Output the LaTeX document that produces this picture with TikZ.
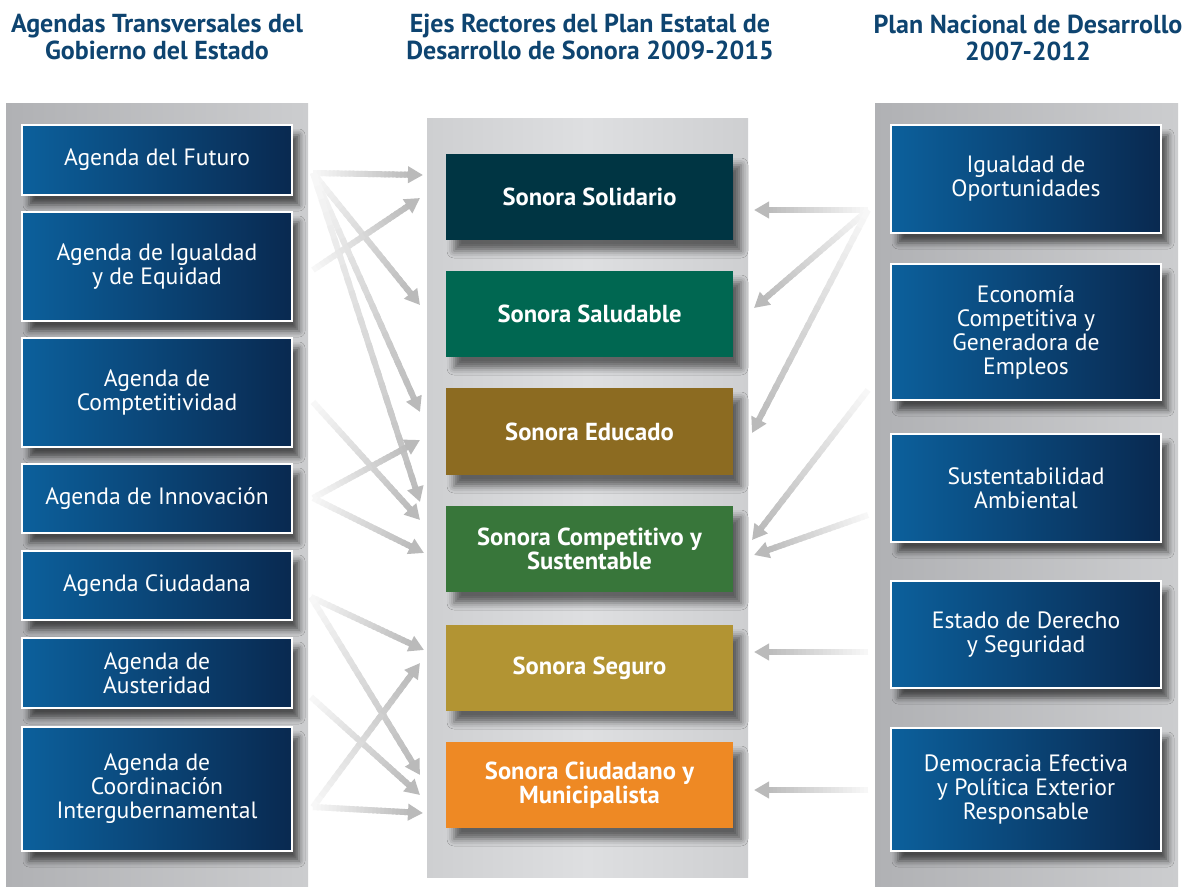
\documentclass[tikz,border=0pt]{standalone}
\usepackage{fontspec}
\setmainfont{PT Sans}
\usetikzlibrary{calc,arrows.meta,shadows.blur}
\definecolor{hdr}{RGB}{14,68,112}
\definecolor{bll}{RGB}{12,96,156}
\definecolor{bld}{RGB}{9,41,80}
\definecolor{cA}{RGB}{0,53,67}
\definecolor{cB}{RGB}{0,103,81}
\definecolor{cC}{RGB}{140,107,33}
\definecolor{cD}{RGB}{56,118,58}
\definecolor{cE}{RGB}{178,148,51}
\definecolor{cF}{RGB}{238,137,36}
\definecolor{pl}{RGB}{176,177,180}
\definecolor{pr}{RGB}{204,205,207}
\definecolor{pc}{RGB}{206,207,209}
\definecolor{pm}{RGB}{222,223,225}
\newcommand\agfont{\fontsize{23.6}{24}\selectfont}
\newcommand\ejfont{\fontsize{24.6}{24.5}\selectfont\bfseries}
\newcommand\hdfont{\fontsize{26}{27}\selectfont\bfseries}
\newcommand{\grarr}[2]{%
  \coordinate (tmpE) at ($(#2)!15pt!(#1)$);
  \foreach \k in {0,...,23}{%
    \pgfmathsetmacro\fa{\k/24}%
    \pgfmathsetmacro\fb{min(1,(\k+1.5)/24)}%
    \pgfmathtruncatemacro\ca{3+\k}%
    \draw[line width=6pt, color=black!\ca] ($(#1)!\fa!(tmpE)$) -- ($(#1)!\fb!(tmpE)$);
  }
  \draw[line width=6pt, color=black!27, -{Triangle[length=15pt,width=16pt]}] ($(#2)!16pt!(#1)$) -- (#2);
}
\tikzset{
  agbox/.style={draw=white, line width=2.5pt, left color=bll, right color=bld,
    minimum width=270pt, text=white, align=center, font=\agfont, inner sep=0pt,
    blur shadow={shadow xshift=7pt, shadow yshift=-10pt, shadow blur radius=6pt, shadow opacity=60}},
  ejbox/.style={draw=none, minimum width=287pt, text=white, align=center, font=\ejfont, inner sep=0pt,
    blur shadow={shadow xshift=8pt, shadow yshift=-11pt, shadow blur radius=7pt, shadow opacity=55}},
  hdtext/.style={text=hdr, align=center, font=\hdfont, inner sep=0pt},
}
\begin{document}
\begin{tikzpicture}[x=1pt,y=-1pt]
\useasboundingbox (0,0) rectangle (1190,886);
\fill[white] (0,0) rectangle (1190,886);
% panels
\shade[left color=pl, right color=pr] (6,103) rectangle (308,886);
\shade[left color=pc, right color=pc, middle color=pm] (427,118) rectangle (748,877);
\shade[left color=pl, right color=pr] (875,103) rectangle (1178,886);
% headers
\node[hdtext] (H1) at (157,37) {Agendas Transversales del\\Gobierno del Estado};
\node[hdtext] (H2) at (590,37) {Ejes Rectores del Plan Estatal de\\Desarrollo de Sonora 2009-2015};
\node[hdtext] (H3) at (1028,38) {Plan Nacional de Desarrollo\\2007-2012};
% left boxes
\node[agbox, minimum height=70pt] (L1) at (157,160) {Agenda del Futuro};
\node[agbox, minimum height=109pt] (L2) at (157,266.5) {Agenda de Igualdad\\y de Equidad};
\node[agbox, minimum height=109pt] (L3) at (157,392.5) {Agenda de\\Comptetitividad};
\node[agbox, minimum height=69pt] (L4) at (157,498.5) {Agenda de Innovación};
\node[agbox, minimum height=69pt] (L5) at (157,585.5) {Agenda Ciudadana};
\node[agbox, minimum height=70pt] (L6) at (157,673) {Agenda de\\Austeridad};
\node[agbox, minimum height=124pt] (L7) at (157,789) {Agenda de\\Coordinación\\Intergubernamental};
% center boxes
\node[ejbox, fill=cA, minimum height=86pt] (C1) at (589.5,197) {Sonora Solidario};
\node[ejbox, fill=cB, minimum height=86pt] (C2) at (589.5,314) {Sonora Saludable};
\node[ejbox, fill=cC, minimum height=87pt] (C3) at (589.5,431.5) {Sonora Educado};
\node[ejbox, fill=cD, minimum height=86pt] (C4) at (589.5,549) {Sonora Competitivo y\\Sustentable};
\node[ejbox, fill=cE, minimum height=86pt] (C5) at (589.5,668) {Sonora Seguro};
\node[ejbox, fill=cF, minimum height=86pt] (C6) at (589.5,785) {Sonora Ciudadano y\\Municipalista};
% right boxes
\node[agbox, minimum height=108pt] (R1) at (1026,179) {Igualdad de\\Oportunidades};
\node[agbox, minimum height=136pt] (R2) at (1026,332) {Economía\\Competitiva y\\Generadora de\\Empleos};
\node[agbox, minimum height=108pt] (R3) at (1026,488) {Sustentabilidad\\Ambiental};
\node[agbox, minimum height=107pt] (R4) at (1026,634.5) {Estado de Derecho\\y Seguridad};
\node[agbox, minimum height=123pt] (R5) at (1026,789.5) {Democracia Efectiva\\y Política Exterior\\Responsable};
% connector end points
\coordinate (oL1) at (313,173);
\coordinate (oL2) at (313,270);
\coordinate (oL3) at (313,402);
\coordinate (oL4) at (313,498);
\coordinate (oL5) at (311,597);
\coordinate (oL6) at (311,697);
\coordinate (oL7) at (313,807);
\coordinate (tC1a) at (423,175);
\coordinate (tC1b) at (420,198);
\coordinate (tC2a) at (420,305);
\coordinate (tC3a) at (420,412);
\coordinate (tC3b) at (420,440);
\coordinate (tC4a) at (420,502);
\coordinate (tC4b) at (420,520);
\coordinate (tC4c) at (424,553);
\coordinate (tC5a) at (424,650);
\coordinate (tC5b) at (420,663);
\coordinate (tC6a) at (420,775);
\coordinate (tC6b) at (420,795);
\coordinate (tC6c) at (423,813);
\coordinate (oR1) at (868,210);
\coordinate (oR2) at (868,390);
\coordinate (oR3) at (868,515);
\coordinate (oR4) at (868,652);
\coordinate (oR5) at (868,790);
\coordinate (uC1) at (754,210);
\coordinate (uC2) at (754,308);
\coordinate (uC3) at (752,433);
\coordinate (uC4a) at (752,540);
\coordinate (uC4b) at (754,555);
\coordinate (uC5) at (754,652);
\coordinate (uC6) at (754,790);
% connectors
\grarr{oL1}{tC1a}
\grarr{oL1}{tC2a}
\grarr{oL1}{tC3a}
\grarr{oL1}{tC4a}
\grarr{oL2}{tC1b}
\grarr{oL3}{tC4b}
\grarr{oL4}{tC3b}
\grarr{oL4}{tC4c}
\grarr{oL5}{tC5a}
\grarr{oL5}{tC6a}
\grarr{oL6}{tC6b}
\grarr{oL7}{tC5b}
\grarr{oL7}{tC6c}
\grarr{oR1}{uC1}
\grarr{oR1}{uC2}
\grarr{oR1}{uC3}
\grarr{oR2}{uC4a}
\grarr{oR3}{uC4b}
\grarr{oR4}{uC5}
\grarr{oR5}{uC6}
\end{tikzpicture}
\end{document}
